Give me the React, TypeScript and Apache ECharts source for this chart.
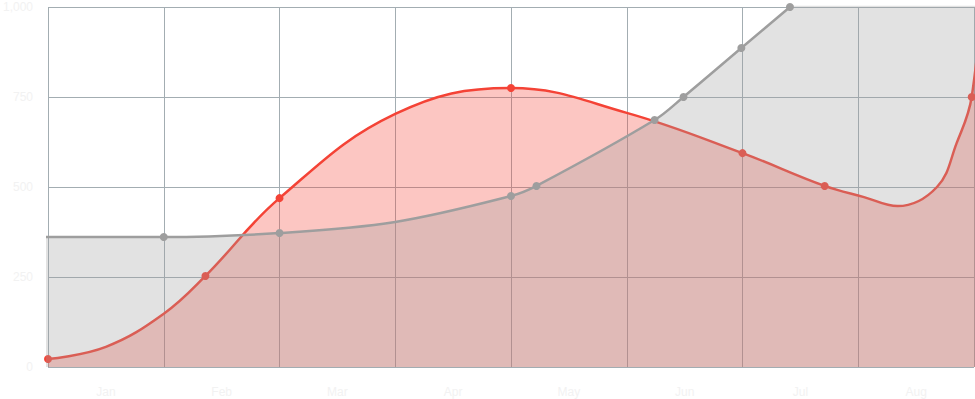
import React, { useEffect, useRef } from "react";
import * as echarts from "echarts";

const monthLabels = ["Jan", "Feb", "Mar", "Apr", "May", "Jun", "Jul", "Aug"];
const yTicks = { min: 0, max: 1000, interval: 250 };

// [x, y] pairs on a 0..8 value x-axis; hidden points carry no symbol
const redX = [0, 0.5, 1, 1.36, 2, 3, 4, 5, 6, 6.71, 7.05, 7.34, 7.68, 7.85, 7.98, 8.1];
const redY = [22, 56, 148, 253, 469, 703, 775, 706, 594, 503, 472, 447, 500, 622, 750, 1150];
const redHidden = [false, true, true, false, false, true, false, true, false, false, true, true, true, true, false, true];

const greyX = [-1, 1, 2, 3, 4, 4.22, 5.24, 5.49, 5.99, 6.41, 7.5, 9];
const greyY = [361, 361, 372, 403, 475, 503, 686, 750, 886, 1000, 1300, 1700];
const greyHidden = [true, false, false, true, false, false, false, false, false, false, true, true];

const RED = "#f44336";
const GREY = "#9e9e9e";
const GRID = "#a3adb2";
const LABEL = "#f2f2f2";

function build(xs: number[], ys: number[], hidden: boolean[]) {
  return xs.map((x, i) =>
    hidden[i] ? { value: [x, ys[i]], symbol: "none" } : { value: [x, ys[i]] }
  );
}

export default function App() {
  const ref = useRef<HTMLDivElement>(null);
  useEffect(() => {
    if (!ref.current) return;
    const chart = echarts.init(ref.current, null, { renderer: "svg" });
    chart.setOption({
      animation: false,
      backgroundColor: "#ffffff",
      grid: { left: 45, right: 1, top: 7, bottom: 32, containLabel: false },
      xAxis: [
        {
          type: "value",
          min: 0,
          max: 8,
          interval: 1,
          axisLabel: { show: false },
          axisLine: { show: false },
          axisTick: { show: false },
          splitLine: { show: true, lineStyle: { color: GRID, width: 1 } },
        },
        {
          type: "category",
          data: monthLabels,
          boundaryGap: true,
          position: "bottom",
          axisLine: { show: false },
          axisTick: { show: false },
          splitLine: { show: false },
          axisLabel: { color: LABEL, fontSize: 12, margin: 19 },
        },
      ],
      yAxis: {
        type: "value",
        min: yTicks.min,
        max: yTicks.max,
        interval: yTicks.interval,
        axisLine: { show: false },
        axisTick: { show: false },
        axisLabel: { color: LABEL, fontSize: 12, margin: 15 },
        splitLine: { show: true, lineStyle: { color: GRID, width: 1 } },
      },
      series: [
        {
          type: "line",
          xAxisIndex: 0,
          smooth: 0.4,
          data: build(redX, redY, redHidden),
          symbol: "circle",
          symbolSize: 8,
          showAllSymbol: true,
          lineStyle: { color: RED, width: 2.5 },
          itemStyle: { color: RED },
          areaStyle: { color: RED, opacity: 0.3 },
          clip: true,
          z: 2,
        },
        {
          type: "line",
          xAxisIndex: 0,
          smooth: 0.35,
          data: build(greyX, greyY, greyHidden),
          symbol: "circle",
          symbolSize: 8,
          showAllSymbol: true,
          lineStyle: { color: GREY, width: 2.5 },
          itemStyle: { color: GREY },
          areaStyle: { color: GREY, opacity: 0.3 },
          clip: true,
          z: 3,
        },
      ],
    });
    return () => chart.dispose();
  }, []);
  return <div ref={ref} style={{ width: 975, height: 399, position: "absolute", left: 0, top: 0 }} />;
}
